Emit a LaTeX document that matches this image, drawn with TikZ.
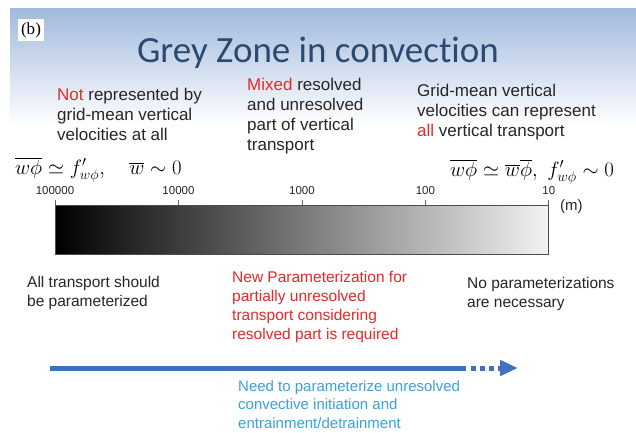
\documentclass[tikz,border=0pt]{standalone}
\usepackage[no-math]{fontspec}
\setmainfont{Liberation Sans}
\newfontfamily\titlefont[Ligatures=NoCommon]{Carlito}
\newfontfamily\labfont{Liberation Serif}
\usetikzlibrary{arrows.meta,calc}
\definecolor{hotred}{RGB}{232,40,40}
\definecolor{titleblue}{RGB}{44,74,112}
\definecolor{bandblue}{RGB}{160,186,221}
\definecolor{arrowblue}{RGB}{64,114,188}
\definecolor{noteblue}{RGB}{60,160,222}
\definecolor{bodygrey}{RGB}{38,38,38}
\begin{document}
\begin{tikzpicture}[x=1pt,y=-1pt,
  body/.style={anchor=north west,inner sep=0pt,align=left,text=bodygrey,
    font=\fontsize{15.5}{19}\selectfont},
  upper/.style={body,font=\fontsize{17}{20}\selectfont},
  rednote/.style={body,text=hotred},
  bluenote/.style={body,text=noteblue,font=\fontsize{15}{18.5}\selectfont},
  ticklab/.style={anchor=base,inner sep=0pt,text=bodygrey,font=\fontsize{11.5}{13}\selectfont},
  formula/.style={anchor=base west,inner sep=0pt,font=\fontsize{21}{24}\selectfont},
  tickline/.style={draw=black!60,line width=0.7pt},
  flow/.style={draw=arrowblue,line width=5pt}]
\useasboundingbox (0,0) rectangle (636,432);
\fill[white] (0,0) rectangle (636,432);
\shade[top color=bandblue,bottom color=white] (10,8) rectangle (636,125);
% label (b)
\node[fill=white,inner sep=3pt,font=\labfont\fontsize{17}{19}\selectfont] (lab) at (31,30) {(b)};
% title
\node[anchor=base,inner sep=0pt,text=titleblue,font=\titlefont\fontsize{37}{40}\selectfont] (title) at (318,62) {Grey Zone in convection};
% upper texts
\node[upper] (t1) at (57,88) {\textcolor{hotred}{Not} represented by\\grid-mean vertical\\velocities at all};
\node[upper] (t2) at (247,78) {\textcolor{hotred}{Mixed} resolved\\and unresolved\\part of vertical\\transport};
\node[upper] (t3) at (417,84) {Grid-mean vertical\\velocities can represent\\\textcolor{hotred}{all} vertical transport};
% formulas
\node[formula] (f1) at (15,174) {$\overline{w\phi}\simeq f'_{w\phi},\quad \overline{w}\sim 0$};
\node[formula] (f2) at (450,176) {$\overline{w\phi}\simeq \overline{w}\overline{\phi},\hspace{0.3em} f'_{w\phi}\sim 0$};
% bar
\node[anchor=north west,minimum width=493pt,minimum height=49pt,inner sep=0pt,
  left color=black,right color=black!5,draw=black!70,line width=0.8pt] (bar) at (55,205) {};
\foreach \f/\v [count=\i] in {0/100000,0.25/10000,0.5/1000,0.75/100,1/10}{
  \coordinate (tk\i) at ($(bar.north west)!\f!(bar.north east)$);
  \draw[tickline] (tk\i) -- ++(0,-5);
  \node[ticklab] (tl\i) at ($(tk\i)+(0,-11)$) {\v};
}
\node[anchor=west,inner sep=0pt,text=bodygrey,font=\fontsize{15}{17}\selectfont] (unit) at (560,207) {(m)};
% lower texts
\node[body] (b1) at (27,276) {All transport should\\be parameterized};
\node[rednote] (b2) at (232,271) {New Parameterization for\\partially unresolved\\transport considering\\resolved part is required};
\node[body] (b3) at (467,277) {No parameterizations\\are necessary};
% arrow
\coordinate (a0) at (50,368);
\coordinate (a1) at (466,368);
\coordinate (a2) at (471,368);
\coordinate (a3) at (518,368);
\draw[flow] (a0) -- (a1);
\draw[flow,dash pattern=on 5pt off 4pt,-{Triangle[length=18pt,width=15pt]}] (a2) -- (a3);
\node[bluenote] (n1) at (238,380) {Need to parameterize unresolved\\convective initiation and\\entrainment/detrainment};
\end{tikzpicture}
\end{document}
